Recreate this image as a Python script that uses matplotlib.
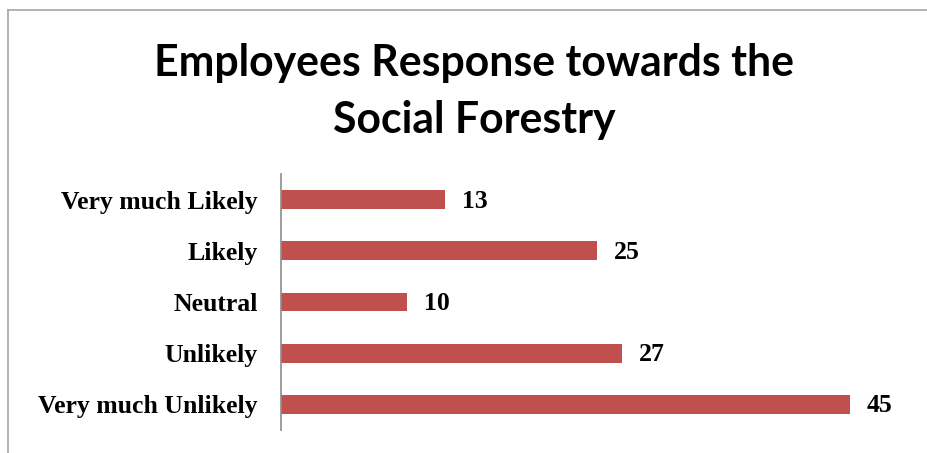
import matplotlib
matplotlib.use('Agg')
import matplotlib.pyplot as plt
from matplotlib.lines import Line2D

categories = ['Very much Likely', 'Likely', 'Neutral', 'Unlikely', 'Very much Unlikely']
values = [13, 25, 10, 27, 45]
title = 'Employees Response towards the\nSocial Forestry'

W, H = 928, 453
fig = plt.figure(figsize=(W / 100, H / 100), dpi=100)

# chart frame (left and top edges visible)
fig.add_artist(Line2D([7.5 / W, 7.5 / W], [0, 1 - 10 / H], color='#a6a6a6', lw=1.2))
fig.add_artist(Line2D([7.5 / W, 1], [1 - 10 / H, 1 - 10 / H], color='#a6a6a6', lw=1.2))

ax = fig.add_axes([281 / W, 1 - 430 / H, (913 - 281) / W, (430 - 174) / H])
pos = list(range(len(categories)))[::-1]
ax.barh(pos, values, height=0.37, color='#c0504d')
ax.set_xlim(0, 50)
ax.set_ylim(-0.5, len(categories) - 0.5)
ax.set_yticks(pos)
ax.set_yticklabels(categories, fontfamily='Liberation Serif', fontweight='bold', fontsize=18.5)
ax.tick_params(axis='y', length=0, pad=17)
ax.set_xticks([])
for s in ['top', 'right', 'bottom']:
    ax.spines[s].set_visible(False)
ax.spines['left'].set_color('#8c8c8c')
ax.spines['left'].set_linewidth(1.2)

for p, v in zip(pos, values):
    ax.text(v + 1.3, p - 0.03, str(v), va='center', ha='left',
            fontfamily='Liberation Serif', fontweight='bold', fontsize=18.5)

fig.text(0.5 + 10 / W, 1 - 43 / H, title, ha='center', va='top', fontfamily='Lato',
         fontweight='bold', fontsize=30.8, linespacing=1.5)

fig.savefig('out.png', dpi=100)
